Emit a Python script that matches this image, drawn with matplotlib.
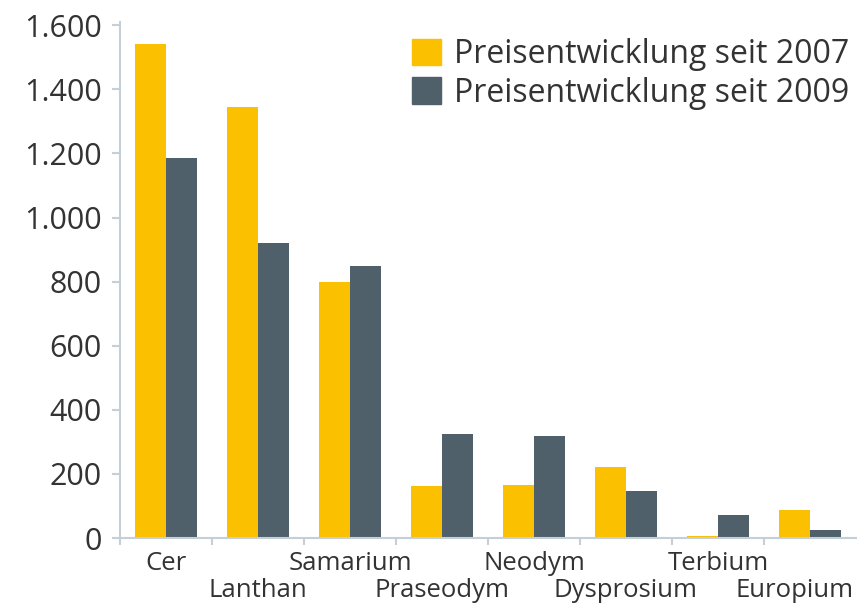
import numpy as np
import matplotlib
matplotlib.use("Agg")
from matplotlib import pyplot as plt
from matplotlib.patches import Patch
from matplotlib.ticker import FuncFormatter


elements = ["Cer", "Lanthan", "Samarium", "Praseodym",
            "Neodym", "Dysprosium", "Terbium", "Europium"]
since_2007 = [1540, 1345, 800, 162, 166, 220, 7, 88]
since_2009 = [1185, 920, 850, 323, 318, 148, 72, 25]
y_ticks = [0, 200, 400, 600, 800, 1000, 1200, 1400, 1600]
legend_labels = ["Preisentwicklung seit 2007", "Preisentwicklung seit 2009"]

yellow = "#FBC000"
slate = "#4F606B"
axis_col = "#C5CFD7"
text_col = "#333333"

plt.rcParams['font.family'] = ['Open Sans', 'DejaVu Sans']

fig = plt.figure(figsize=(8.57, 6.11), dpi=100)
ax = fig.add_axes([120/857, 73/611, 736/857, 516/611])

x = np.arange(len(elements))
w = 0.34
ax.bar(x - w/2, since_2007, w, color=yellow, zorder=2)
ax.bar(x + w/2, since_2009, w, color=slate, zorder=2)

ax.set_xlim(-0.5, len(elements) - 0.5)
ax.set_ylim(0, 1610)

for s in ["top", "right"]:
    ax.spines[s].set_visible(False)
for s in ["left", "bottom"]:
    ax.spines[s].set_color(axis_col)
    ax.spines[s].set_linewidth(1.5)

ax.set_yticks(y_ticks)
ax.yaxis.set_major_formatter(FuncFormatter(lambda v, p: f"{int(v):,}".replace(",", ".")))
ax.tick_params(axis="y", length=6, width=1.5, color=axis_col, labelsize=22,
               labelcolor=text_col, pad=7)

ax.set_xticks(np.arange(-0.5, len(elements) - 1, 1.0))
ax.set_xticklabels([])
ax.tick_params(axis="x", length=5, width=1.5, color=axis_col)

# alternate the category names on two rows, last one pulled in from the edge
for i, name in enumerate(elements):
    dy = 13 if i % 2 == 0 else 40
    dx = -15 if i == len(elements) - 1 else 0
    ax.annotate(name, xy=(i, 0), xycoords=("data", "axes fraction"),
                xytext=(dx, -dy), textcoords="offset pixels",
                ha="center", va="top", fontsize=18.5, color=text_col)

handles = [Patch(color=yellow), Patch(color=slate)]
ax.legend(handles, legend_labels, loc="upper right", frameon=False,
          fontsize=23, labelcolor=text_col, handlelength=0.9, handleheight=0.9,
          handletextpad=0.4, labelspacing=0.18, borderaxespad=0.1,
          bbox_to_anchor=(1.012, 1.0))

plt.savefig("out.png", dpi=100)
